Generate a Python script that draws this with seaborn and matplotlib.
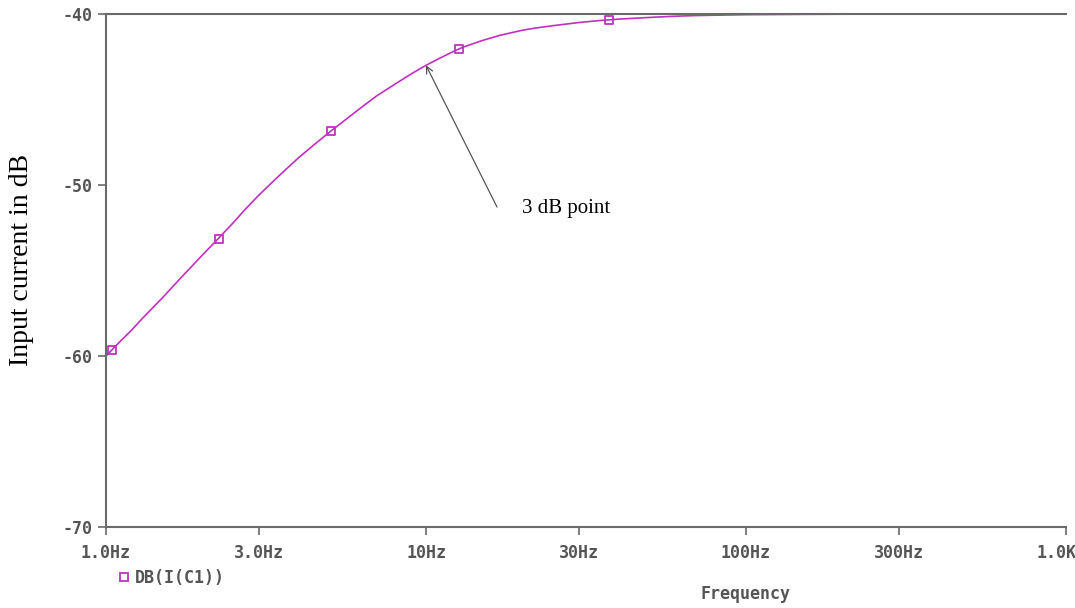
import numpy as np
import pandas as pd
import matplotlib
matplotlib.use("Agg")
import matplotlib.pyplot as plt
from matplotlib.lines import Line2D
import seaborn as sns

# ---- data ----
freq_hz = [1.0, 1.1, 1.2, 1.3, 1.5, 1.7, 2.0, 2.2, 2.5, 2.7, 3.0, 3.5, 4.0, 4.5, 5.0,
           5.5, 6.0, 6.5, 7.0, 8.0, 9.0, 10.0, 11.0, 12.0, 13.0, 15.0, 17.0, 20.0,
           22.0, 25.0, 30.0, 35.0, 40.0, 50.0, 60.0, 70.0, 80.0, 100.0, 150.0,
           200.0, 300.0, 500.0, 1000.0]
db_current = [-60.0, -59.2, -58.5, -57.8, -56.6, -55.5, -54.1, -53.3, -52.2, -51.5,
              -50.6, -49.4, -48.4, -47.6, -46.9, -46.3, -45.75, -45.25, -44.8, -44.1,
              -43.5, -43.0, -42.6, -42.25, -41.95, -41.55, -41.25, -40.95, -40.82,
              -40.68, -40.5, -40.38, -40.3, -40.2, -40.13, -40.09, -40.07, -40.04,
              -40.02, -40.01, -40.0, -40.0, -40.0]
marker_freq = [1.044, 2.25, 5.05, 12.7, 37.3]
marker_db = [-59.65, -53.16, -46.84, -42.05, -40.35]

xtick_vals = [1, 3, 10, 30, 100, 300, 1000]
xtick_labels = ["1.0Hz", "3.0Hz", "10Hz", "30Hz", "100Hz", "300Hz", "1.0KHz"]
ytick_vals = [-70, -60, -50, -40]
ytick_labels = ["-70", "-60", "-50", "-40"]
series_name = "DB(I(C1))"
annot_text = "3 dB point"
annot_freq = 10.0
annot_db = -43.0

curve = pd.DataFrame({"freq": freq_hz, "db": db_current})
marks = pd.DataFrame({"freq": marker_freq, "db": marker_db})

sns.set_theme(style="white")
plt.rcParams['font.family'] = ['DejaVu Sans']

line_color = "#C030C0"
axis_color = "#6a6a6a"
text_color = "#555555"

fig = plt.figure(figsize=(10.75, 6.08), dpi=100)
ax = fig.add_axes([106/1075, 1 - 527/608, 960/1075, 513/608])

sns.lineplot(data=curve, x="freq", y="db", ax=ax, color=line_color, lw=1.2)
sns.scatterplot(data=marks, x="freq", y="db", ax=ax, marker="s", s=30,
                facecolor="none", edgecolor=line_color, linewidth=1.3, zorder=5)

ax.set_xscale("log")
ax.set_xlim(1, 1000)
ax.set_ylim(-70, -40)
ax.set_xticks(xtick_vals)
ax.set_xticklabels(xtick_labels)
ax.minorticks_off()
ax.set_yticks(ytick_vals)
ax.set_yticklabels(ytick_labels)

mono = dict(family="DejaVu Sans Mono", weight="bold", size=12, color=text_color)
for lab in ax.get_xticklabels() + ax.get_yticklabels():
    lab.set_fontfamily("DejaVu Sans Mono")
    lab.set_fontweight("bold")
    lab.set_fontsize(12)
    lab.set_color(text_color)

ax.tick_params(axis="both", which="major", direction="out", length=6, width=1.2,
               color=axis_color, bottom=True, left=True, pad=4)
ax.tick_params(axis="x", pad=6)

for side in ["left", "bottom", "top"]:
    ax.spines[side].set_visible(True)
    ax.spines[side].set_color(axis_color)
    ax.spines[side].set_linewidth(1.5)
ax.spines["right"].set_visible(False)

ax.set_xlabel("Frequency", fontdict=mono)
ax.xaxis.set_label_coords((746 - 106) / 960, (527 - 594) / 513)
ax.xaxis.label.set_va("center")
ax.set_ylabel("Input current in dB", family="Liberation Serif", size=20,
              color="black")
ax.yaxis.set_label_coords((22 - 106) / 960, (527 - 260) / 513)
ax.yaxis.label.set_va("center")

ax.annotate("", xy=(annot_freq, annot_db), xycoords="data",
            xytext=(497/1075, 1 - 207/608), textcoords="figure fraction",
            arrowprops=dict(arrowstyle="->", color="#555555", lw=0.9,
                            shrinkA=0, shrinkB=0))
fig.text(522/1075, 1 - 209/608, annot_text, family="Liberation Serif",
         size=15, color="black", va="center", ha="left")

handle = Line2D([], [], marker="s", ls="none", mfc="none", mec=line_color,
                mew=1.3, ms=6)
ax.legend([handle], [series_name], loc="center left",
          bbox_to_anchor=(0.008, -0.099), frameon=False, handletextpad=0.1,
          handlelength=1.2, prop=dict(family="DejaVu Sans Mono", weight="bold", size=12),
          labelcolor=text_color, borderaxespad=0, borderpad=0)

fig.savefig("out.png", dpi=100)
